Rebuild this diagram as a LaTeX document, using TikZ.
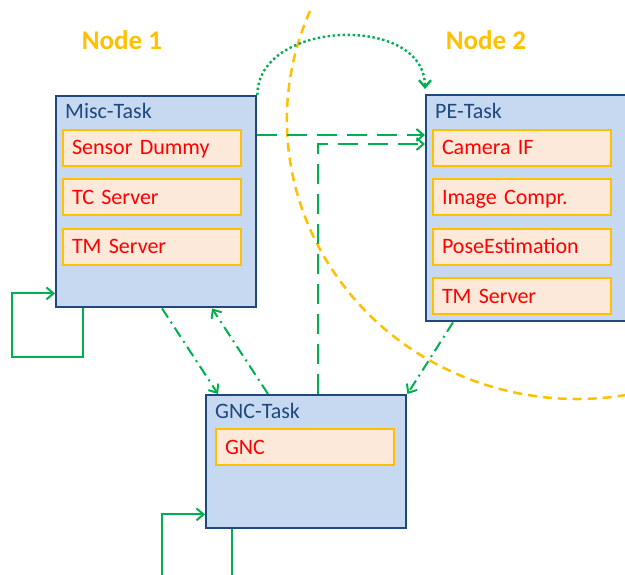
\documentclass[tikz,border=0pt]{standalone}
\usepackage{fontspec}
\setmainfont{Carlito}
\usetikzlibrary{positioning,arrows.meta}
\definecolor{taskblue}{HTML}{1F497D}
\definecolor{taskfill}{HTML}{C6D9F0}
\definecolor{compfill}{HTML}{FDE9D9}
\definecolor{compline}{HTML}{FFC000}
\definecolor{flowgreen}{HTML}{00B050}
\tikzset{
task/.style={
  draw=taskblue,
  fill=taskfill,
  line width=2.4pt,
  minimum width=200pt,
  inner sep=0pt,
  anchor=north west
  },
tasklabel/.style={
  text=taskblue,
  anchor=base west,
  inner sep=0pt,
  font=\fontsize{22}{26}\selectfont
  },
comp/.style={
  draw=compline,
  fill=compfill,
  line width=2pt,
  text=red,
  text width=160pt,
  inner xsep=9pt,
  inner ysep=0pt,
  minimum height=36pt,
  text height=14pt,
  text depth=0pt,
  align=left,
  font=\fontsize{22}{26}\selectfont
  },
nodelabel/.style={
  text=compline,
  font=\fontsize{27}{30}\selectfont\bfseries
  }
}
\tikzset{
  flow/.style={draw=flowgreen, line width=2pt,
    -{Straight Barb[length=7pt,width=12pt]}},
  dashdot/.style={flow, dash pattern=on 11pt off 5pt on 2pt off 5pt},
  longdash/.style={flow, dash pattern=on 20pt off 10pt},
  dotline/.style={flow, line width=2.4pt, dash pattern=on 2.4pt off 2.6pt},
  selfloop/.style={flow},
  boundary/.style={draw=compline, line width=2.5pt, dash pattern=on 9pt off 6pt}
}

\begin{document}
\begin{tikzpicture}[x=1pt,y=-1pt]

\useasboundingbox (0,0) rectangle (625,575);
\clip (0,0) rectangle (625,575);

% border between the two nodes
\coordinate (bnd) at (310,11);
\draw[boundary] (bnd) arc[start angle=157, end angle=290,
  x radius=290pt, y radius=279pt];

\node[nodelabel] (node1) at (122,40) {Node 1};
\node[nodelabel] (node2) at (486,40) {Node 2};

% Misc-Task
\node[task, minimum height=211pt] (misc) at (55,95) {};
\node[tasklabel] (misclbl) at ([xshift=10pt,yshift=-24pt]misc.north west) {Misc-Task};
\node[comp, below right=34pt and 7pt of misc.north west] (sensor) {Sensor Dummy};
\node[comp, below=11.5pt of sensor] (tcsrv) {TC Server};
\node[comp, below=11.5pt of tcsrv] (tmsrv1) {TM Server};

% PE-Task
\node[task, minimum height=226pt] (pe) at (425,94) {};
\node[tasklabel] (pelbl) at ([xshift=10pt,yshift=-25pt]pe.north west) {PE-Task};
\node[comp, below right=35pt and 7pt of pe.north west] (camif) {Camera IF};
\node[comp, below=11.5pt of camif] (imgcmp) {Image Compr.};
\node[comp, below=11.5pt of imgcmp] (posest) {PoseEstimation};
\node[comp, below=11.5pt of posest] (tmsrv2) {TM Server};

% GNC-Task
\node[task, minimum height=133pt] (gnc) at (205,394) {};
\node[tasklabel] (gnclbl) at ([xshift=10pt,yshift=-24pt]gnc.north west) {GNC-Task};
\node[comp, below right=34pt and 10pt of gnc.north west] (gncc) {GNC};

% connections
\draw[dotline] (misc.north east) to[out=90,in=90,looseness=1.15]
  ([yshift=5pt]pe.north west);
\draw[longdash] ([yshift=-40pt]misc.north east) -- ([yshift=-41pt]pe.north west);
\draw[longdash] ([xshift=113pt]gnc.north west) |- ([yshift=-50pt]pe.north west);
\draw[dashdot] ([xshift=107pt]misc.south west) -- ([xshift=13pt]gnc.north west);
\draw[dashdot] ([xshift=63pt]gnc.north west) -- ([xshift=157pt]misc.south west);
\draw[dashdot] ([xshift=28pt]pe.south west) -- (gnc.north east);

% self loops
\draw[selfloop] ([xshift=28pt]misc.south west) |- (12,357)
  |- ([yshift=15pt]misc.south west);
\draw[selfloop] ([xshift=27pt]gnc.south west) |- (162,600)
  |- ([yshift=15pt]gnc.south west);

\end{tikzpicture}
\end{document}
